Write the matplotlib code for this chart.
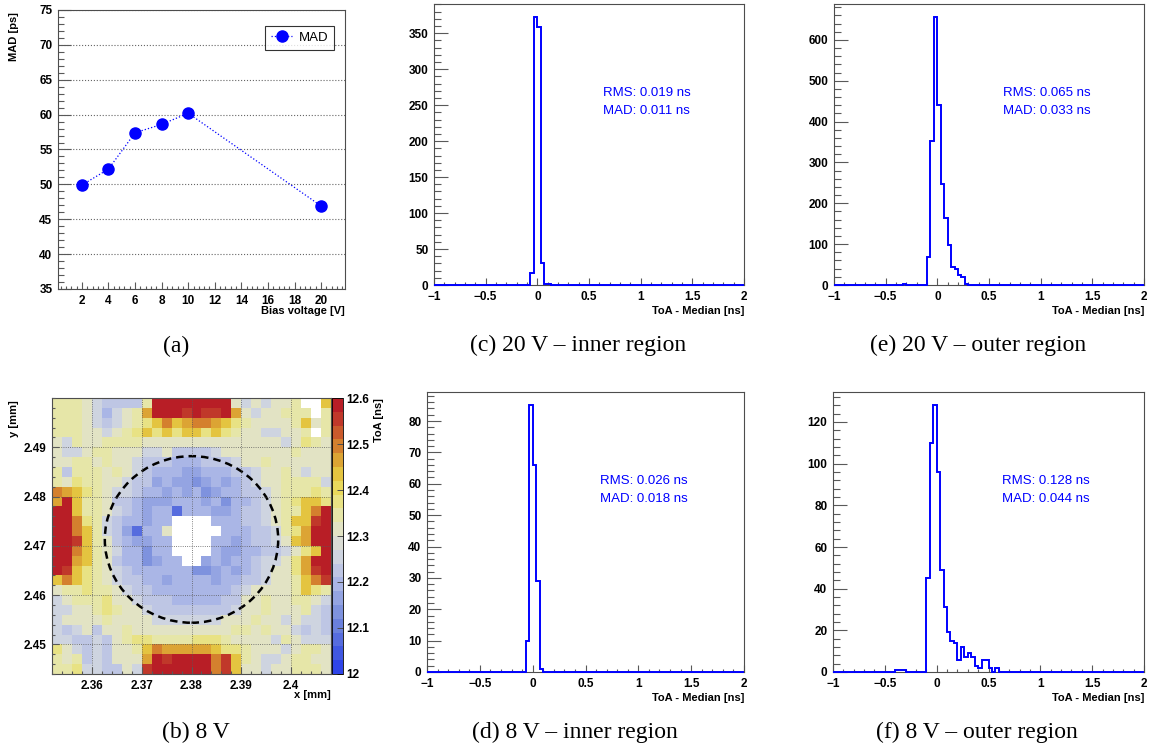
import numpy as np
import matplotlib
matplotlib.use("Agg")
import matplotlib.pyplot as plt
from matplotlib.colors import ListedColormap, BoundaryNorm
from matplotlib.patches import Ellipse
from matplotlib.ticker import MultipleLocator, FuncFormatter, FixedLocator

plt.rcParams["font.family"] = ["Liberation Sans", "DejaVu Sans"]
plt.rcParams["font.weight"] = "bold"

W, H = 1153, 747

# --- (a) MAD vs bias voltage ---
bias_v = [2, 4, 6, 8, 10, 20]
mad_ps = [49.9, 52.2, 57.4, 58.6, 60.2, 46.9]

# --- ToA - median histograms, 90 bins of 1/30 ns between -1 and 2 ns ---
# counts are listed from bin index *_first onwards, all other bins are empty
inner20_first = 28
inner20_counts = [17, 372, 358, 30, 1, 1]
outer20_first = 19
outer20_counts = [1, 2, 1, 0, 0, 0, 0, 0, 68, 352, 655, 441, 248, 163, 97, 45,
                  40, 25, 20, 3]
inner8_first = 28
inner8_counts = [10, 85, 66, 29, 1]
outer8_first = 18
outer8_counts = [1, 1, 1, 0, 0, 0, 0, 0, 0, 45, 110, 128, 96, 49, 31, 19, 15, 14,
                 6, 12, 7, 9, 7, 3, 2, 6, 6, 2, 0, 2]
stats = {
    "c": ("RMS: 0.019 ns", "MAD: 0.011 ns"),
    "e": ("RMS: 0.065 ns", "MAD: 0.033 ns"),
    "d": ("RMS: 0.026 ns", "MAD: 0.018 ns"),
    "f": ("RMS: 0.128 ns", "MAD: 0.044 ns"),
}

# --- (b) ToA map at 8 V, 28 x 28 pixels of 2 um, top row first ---
toa_rows = [
    "lllcgsssslRRRRRRRRcgcgccl..Y",
    "lllcgbgcloRRRrRrrRocgcclll.l",
    "lllcgsgclyYOYoOOoYylcccclYcl",
    "lllccgclyYyYyYYyYylccggccl.l",
    "cglccllllccccccccccccccgcylc",
    "cggcllcccggcssssgccccccclccc",
    "ccllclccgsssbbbsssgcclcccccc",
    "lslllclcgsbbbBBbbbssgcclcgcc",
    "lcyllccgssBbBBDBbBbsgccllllg",
    "OoYylcggsbbBbBbDBbbssgclllyl",
    "oRYllcssbBBBbbbBbDbbsgclyYYy",
    "RRYllcgsbBbbEbbbBBbssgcllYOR",
    "RROylgsbbBbb....bbbssgclYYrR",
    "RROYlgsBEbbc.....bbbssglyoRR",
    "RRrYlcsbBBbb....bbBbssgcYoRR",
    "RROYlcgbbDbb....bBBbbssgcyYR",
    "RRoYlcsbbDBbb..BbBbbsggcyoRR",
    "RrYylcgsbbbbbbDDBbBbsgccyorR",
    "YOYylcgssbbBbbbbBbbssgcclYOr",
    "cllyllcgssbbbbbbbbsgcccclYyl",
    "gclllyccgsssbbbbbsscclccllcg",
    "ggcclylccgssssssssgcclccclgs",
    "gcccclccccgggggggccclccgcggs",
    "gsgcscclccccccccccllclccgsgs",
    "ggssgsclyyllllyyylccccglcggg",
    "ycgsgscclYOoooooYyylcccgcllc",
    "lclsgscccoRrRRRROrYlcggcllcc",
    "llyggsscgrRRRRRROrYccgcclllc",
]
# colour classes of the map and the palette bin each one falls in
toa_class = {"E": 2, "D": 4, "B": 5, "b": 6, "s": 7, "g": 8, "c": 10, "l": 11,
             "y": 12, "Y": 14, "o": 15, "O": 16, "r": 18, "R": 19}
palette = ["#2e44e8", "#4058e2", "#566cde", "#6a80dc", "#7e92de", "#94a4e2",
           "#aab6e6", "#bec6e4", "#ced4e0", "#dadcd4", "#e2e3c4", "#e6e6a8",
           "#e8e284", "#e8d85c", "#e4c440", "#dca434", "#d4802e", "#ca5a2c",
           "#c0382a", "#b81e26"]
toa_min, toa_max = 12.0, 12.6
x0_mm, y0_mm, pitch_mm = 2.352, 2.444, 0.002
ring = (2.38, 2.4713, 0.0348, 0.0338)

fig = plt.figure(figsize=(W / 100, H / 100), dpi=100)


def px_axes(left, top, right, bottom):
    return fig.add_axes([left / W, 1 - bottom / H, (right - left) / W, (bottom - top) / H])


def fmt_num(v, pos=None):
    s = "%g" % round(v, 6)
    return s.replace("-", "\u2212")


def style(ax, xmaj, xmin, ymaj, ymin, ylen=10):
    ax.xaxis.set_major_locator(MultipleLocator(xmaj))
    ax.xaxis.set_minor_locator(MultipleLocator(xmin))
    ax.yaxis.set_major_locator(MultipleLocator(ymaj))
    ax.yaxis.set_minor_locator(MultipleLocator(ymin))
    ax.xaxis.set_major_formatter(FuncFormatter(fmt_num))
    ax.yaxis.set_major_formatter(FuncFormatter(fmt_num))
    ax.tick_params(which="both", direction="in", top=False, right=False,
                   labelsize=8.5, color="0.35", width=0.8)
    ax.tick_params(axis="y", which="major", length=ylen, pad=4)
    ax.tick_params(axis="y", which="minor", length=ylen / 2)
    ax.tick_params(axis="x", which="major", length=5, pad=4.5)
    ax.tick_params(axis="x", which="minor", length=2.5)
    for sp in ax.spines.values():
        sp.set_linewidth(0.8)
        sp.set_color("0.3")


def caption(xc, yc, s):
    fig.text(xc / W, 1 - yc / H, s, ha="center", va="center", fontsize=17,
             family=["Liberation Serif", "DejaVu Serif"], weight="normal")


def xtitle(ax, s, dy_px):
    ax.annotate(s, xy=(1, 0), xycoords="axes fraction", xytext=(0, -dy_px * 0.72),
                textcoords="offset points", ha="right", va="top", fontsize=8)


# (a)
ax = px_axes(58, 10, 345, 289)
ax.plot(bias_v, mad_ps, color="blue", ls=":", lw=0.9, marker="o", ms=8,
        markeredgecolor="blue", markerfacecolor="blue", label="MAD")
ax.set_xlim(0.2, 21.8)
ax.set_ylim(35, 75)
style(ax, 2, 0.4, 5, 1, ylen=9)
ax.yaxis.grid(True, which="major", ls=":", color="0.4", lw=0.8)
leg = ax.legend(loc="upper left", bbox_to_anchor=(0.722, 0.944), frameon=True,
                fancybox=False, edgecolor="black", handlelength=1.6,
                prop={"size": 9.5, "weight": "normal"}, borderpad=0.45,
                handletextpad=0.5, borderaxespad=0)
leg.get_frame().set_linewidth(0.8)
xtitle(ax, "Bias voltage [V]", 17)
fig.text(14 / W, 1 - 12 / H, "MAD [ps]", rotation=90, ha="center", va="top", fontsize=8)
caption(176, 346, "(a)")

# (b)
grid = np.array([[toa_min + 0.03 * toa_class[ch] + 0.015 if ch != "." else np.nan
                  for ch in row] for row in toa_rows])
grid = np.flipud(grid)
n_y, n_x = grid.shape
xe = x0_mm + pitch_mm * np.arange(n_x + 1)
ye = y0_mm + pitch_mm * np.arange(n_y + 1)
cmap = ListedColormap(palette)
norm = BoundaryNorm(np.linspace(toa_min, toa_max, len(palette) + 1), cmap.N)
ax = px_axes(52, 398, 331, 674)
mesh = ax.pcolormesh(xe, ye, np.ma.masked_invalid(grid), cmap=cmap, norm=norm)
ax.set_xlim(xe[0], xe[-1])
ax.set_ylim(ye[0], ye[-1])
style(ax, 0.01, 0.002, 0.01, 0.002, ylen=5)
ax.yaxis.set_major_locator(FixedLocator([2.45, 2.46, 2.47, 2.48, 2.49]))
ax.grid(True, which="major", ls=":", color="0.35", lw=0.6)
ax.set_axisbelow(False)
ax.add_patch(Ellipse(ring[:2], ring[2], ring[3], fill=False, color="black",
                     lw=1.8, ls=(0, (3, 2))))
xtitle(ax, "x [mm]", 16)
fig.text(14 / W, 1 - 400 / H, "y [mm]", rotation=90, ha="center", va="top", fontsize=8)
cax = px_axes(332, 398, 343, 674)
cb = fig.colorbar(mesh, cax=cax, ticks=np.arange(12.0, 12.61, 0.1))
cb.outline.set_linewidth(0.6)
cax.yaxis.set_major_formatter(FuncFormatter(fmt_num))
cax.tick_params(direction="in", length=4, width=0.7, color="0.3", labelsize=8.5, pad=2)
cax.minorticks_off()
fig.text(379 / W, 1 - 398 / H, "ToA [ns]", rotation=90, ha="center", va="top", fontsize=8)
caption(196, 732, "(b) 8 V")

# histograms
edges = -1 + np.arange(91) / 30.0
hist_panels = [
    ("c", (434, 4, 744, 285), inner20_first, inner20_counts, 50, 10, 578, 345,
     "(c) 20 V \u2013 inner region"),
    ("e", (834, 4, 1144, 285), outer20_first, outer20_counts, 100, 20, 978, 345,
     "(e) 20 V \u2013 outer region"),
    ("d", (427, 392, 744, 672), inner8_first, inner8_counts, 10, 2, 575, 732,
     "(d) 8 V \u2013 inner region"),
    ("f", (833, 392, 1144, 672), outer8_first, outer8_counts, 20, 4, 977, 732,
     "(f) 8 V \u2013 outer region"),
]
for key, box, first, counts, ymaj, ymin, cx, cy, cap in hist_panels:
    full = np.zeros(len(edges) - 1)
    full[first:first + len(counts)] = counts
    ax = px_axes(*box)
    ax.stairs(full, edges, color="blue", lw=1.4, clip_on=False, zorder=3)
    ax.set_xlim(-1, 2)
    ax.set_ylim(0, max(counts) * 1.05)
    style(ax, 0.5, 0.1, ymaj, ymin)
    ax.text(0.545, 0.683, stats[key][0], transform=ax.transAxes, color="blue",
            fontsize=9.5, weight="normal", va="center")
    ax.text(0.545, 0.619, stats[key][1], transform=ax.transAxes, color="blue",
            fontsize=9.5, weight="normal", va="center")
    xtitle(ax, "ToA - Median [ns]", 21)
    caption(cx, cy, cap)

fig.savefig("out.png", dpi=100)
